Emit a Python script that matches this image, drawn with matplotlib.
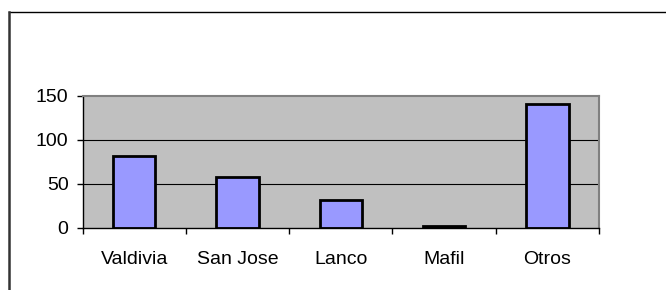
import matplotlib
matplotlib.use("Agg")
import matplotlib.pyplot as plt
from matplotlib.lines import Line2D

categories = ["Valdivia", "San Jose", "Lanco", "Mafil", "Otros"]
values = [82, 58, 32, 2, 141]
yticks = [0, 50, 100, 150]

plt.rcParams['font.family'] = ['Liberation Sans', 'DejaVu Sans']

W, H = 666, 290
fig = plt.figure(figsize=(W / 100, H / 100), dpi=100)
fig.patch.set_facecolor('white')

x0, x1 = 82.5, 599
y0, y1 = 227.7, 95.7
ax = fig.add_axes([x0 / W, 1 - y0 / H, (x1 - x0) / W, (y0 - y1) / H])
ax.set_facecolor('#C0C0C0')

xs = list(range(len(categories)))
ax.bar(xs, values, width=0.41, color='#9999FF', edgecolor='black', linewidth=2.0, zorder=3)

ax.set_xlim(-0.5, len(categories) - 0.5)
ax.set_ylim(0, 150)
ax.set_yticks(yticks)
ax.set_yticklabels([str(v) for v in yticks], fontsize=14)
for v in yticks[1:-1]:
    ax.axhline(v, color='black', linewidth=0.8, zorder=1)

ax.set_xticks(xs)
ax.set_xticklabels(categories, fontsize=14)
ax.tick_params(axis='x', which='major', length=0, pad=17)
ax.set_xticks([i - 0.5 for i in range(len(categories) + 1)], minor=True)
ax.tick_params(axis='x', which='minor', length=4.5, width=1, direction='out', color='black')
ax.tick_params(axis='y', length=4, width=1, direction='out', pad=6, color='black')

for s in ['top', 'right']:
    ax.spines[s].set_color('#808080')
    ax.spines[s].set_linewidth(1.5)
for s in ['left', 'bottom']:
    ax.spines[s].set_color('black')
    ax.spines[s].set_linewidth(1.0)
ax.spines['bottom'].set_zorder(4)

# outer chart-area border (top and left visible)
fig.add_artist(Line2D([8.5 / W, 1.0], [1 - 11.5 / H, 1 - 11.5 / H], color='black', linewidth=1.0,
                      transform=fig.transFigure))
fig.add_artist(Line2D([8.5 / W, 8.5 / W], [1 - 11.5 / H, 0], color='#333333', linewidth=1.8,
                      transform=fig.transFigure))

fig.savefig("out.png", dpi=100)
